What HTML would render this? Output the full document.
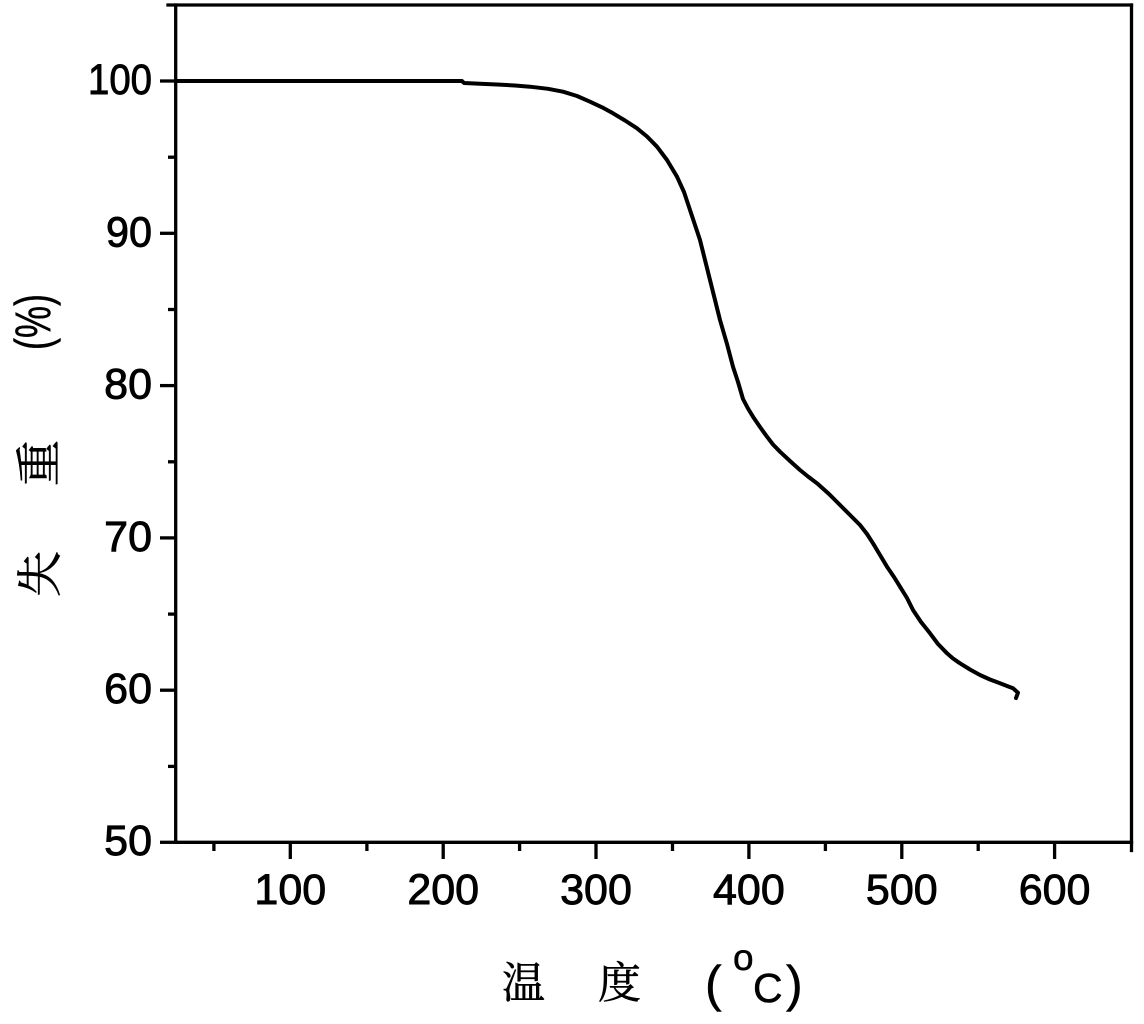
<!DOCTYPE html>
<html>
<head>
<meta charset="utf-8">
<style>
  html, body { margin:0; padding:0; background:#fff; }
  body { width:1144px; height:1024px; overflow:hidden; }
  svg { display:block; }
  .tl { font-family:"Liberation Sans", Arial, sans-serif; font-size:43px; fill:#000; stroke:#000; stroke-width:0.9px; }
  .cjk { font-family:"Liberation Serif", "Noto Serif CJK SC", "Noto Sans CJK SC", serif; font-size:43px; fill:#000; stroke:#000; stroke-width:0.6px; }
  .lat { font-family:"Liberation Sans", Arial, sans-serif; fill:#000; stroke:#000; stroke-width:0.5px; }
</style>
</head>
<body>
<svg width="1144" height="1024" viewBox="0 0 1144 1024" xmlns="http://www.w3.org/2000/svg">
  <rect width="1144" height="1024" fill="#fff"/>

  <!-- axes frame -->
  <g stroke="#000" stroke-width="3.3" fill="none" stroke-linecap="square">
    <line x1="175.7" y1="5" x2="175.7" y2="842.3"/>
    <line x1="175.7" y1="842.3" x2="1131.5" y2="842.3"/>
    <line x1="168" y1="5" x2="1131.5" y2="5"/>
    <line x1="1131.5" y1="5" x2="1131.5" y2="850.5"/>
  </g>

  <!-- y ticks -->
  <g stroke="#000" stroke-width="3.3">
    <line x1="160" y1="842.3" x2="176" y2="842.3"/>
    <line x1="160" y1="690.2" x2="176" y2="690.2"/>
    <line x1="160" y1="537.9" x2="176" y2="537.9"/>
    <line x1="160" y1="385.6" x2="176" y2="385.6"/>
    <line x1="160" y1="233.3" x2="176" y2="233.3"/>
    <line x1="160" y1="81" x2="176" y2="81"/>
    <line x1="168" y1="766.4" x2="176" y2="766.4"/>
    <line x1="168" y1="614.1" x2="176" y2="614.1"/>
    <line x1="168" y1="461.8" x2="176" y2="461.8"/>
    <line x1="168" y1="309.5" x2="176" y2="309.5"/>
    <line x1="168" y1="157.2" x2="176" y2="157.2"/>
  </g>

  <!-- x ticks -->
  <g stroke="#000" stroke-width="3.3">
    <line x1="213.9" y1="842" x2="213.9" y2="851"/>
    <line x1="290.3" y1="842" x2="290.3" y2="859"/>
    <line x1="366.9" y1="842" x2="366.9" y2="851"/>
    <line x1="443.2" y1="842" x2="443.2" y2="859"/>
    <line x1="519.6" y1="842" x2="519.6" y2="851"/>
    <line x1="596" y1="842" x2="596" y2="859"/>
    <line x1="672.5" y1="842" x2="672.5" y2="851"/>
    <line x1="748.9" y1="842" x2="748.9" y2="859"/>
    <line x1="825.4" y1="842" x2="825.4" y2="851"/>
    <line x1="901.8" y1="842" x2="901.8" y2="859"/>
    <line x1="978.2" y1="842" x2="978.2" y2="851"/>
    <line x1="1054.6" y1="842" x2="1054.6" y2="859"/>
  </g>

  <!-- y tick labels -->
  <g class="tl" text-anchor="end">
    <text x="152" y="94" textLength="64" lengthAdjust="spacingAndGlyphs">100</text>
    <text x="152" y="246.5" textLength="46" lengthAdjust="spacingAndGlyphs">90</text>
    <text x="152" y="398.5">80</text>
    <text x="152" y="551">70</text>
    <text x="152" y="703">60</text>
    <text x="152" y="855">50</text>
  </g>

  <!-- x tick labels -->
  <g class="tl" text-anchor="middle">
    <text x="290.3" y="904">100</text>
    <text x="443.2" y="904">200</text>
    <text x="596" y="904">300</text>
    <text x="748.9" y="904">400</text>
    <text x="901.8" y="904">500</text>
    <text x="1054.6" y="904">600</text>
  </g>

  <!-- data curve -->
  <polyline fill="none" stroke="#000" stroke-width="4" stroke-linejoin="round" stroke-linecap="round"
    points="176,81 462,81 464,83 480,83.8 497,84.5 515,85.5 530,86.7 548,88.8 563,91.7 577,96 590,101.7 602,107.3 613,113.3 625,120.5 637,128.3 647,136.5 657,146.7 667,160 677,176.7 684,192 690,210 695,225 700,240 705,260 710,280 715,300 720,320 727,344 733,366.7 738,382 743,399 748,408.5 753,416.7 760,427 767,436.7 773,444.5 780,451.7 790,461 800,470 808,476.5 817,483.3 829,494 840,505 850,515 860,525 867,534 873,543.3 880,555 887,566.7 894,577 900,586.7 907,598 913,610 921,622 930,633.3 938,644 947,653.3 953,658.5 960,663.3 970,669.5 980,675 990,679.5 1000,683.3 1007,686 1013,688.3 1018,692.7 1016,698"/>

  <!-- x axis title -->
  <text class="cjk" x="502" y="998">温</text>
  <text class="cjk" x="598" y="998">度</text>
  <text class="lat" x="705" y="1001" style="font-size:50px">(</text>
  <text class="lat" x="733" y="970" style="font-size:37px">o</text>
  <text class="lat" x="753" y="1002" style="font-size:41px">C</text>
  <text class="lat" x="786" y="1001" style="font-size:50px">)</text>

  <!-- y axis title (rotated) -->
  <text class="cjk" transform="translate(56,574) rotate(-90)" text-anchor="middle" style="font-size:46px">失</text>
  <text class="cjk" transform="translate(55,463) rotate(-90)" text-anchor="middle" style="font-size:46px">重</text>
  <text class="lat" transform="translate(50,322) rotate(-90)" text-anchor="middle" textLength="56" lengthAdjust="spacingAndGlyphs" style="font-size:50px">(%)</text>
</svg>
</body>
</html>
